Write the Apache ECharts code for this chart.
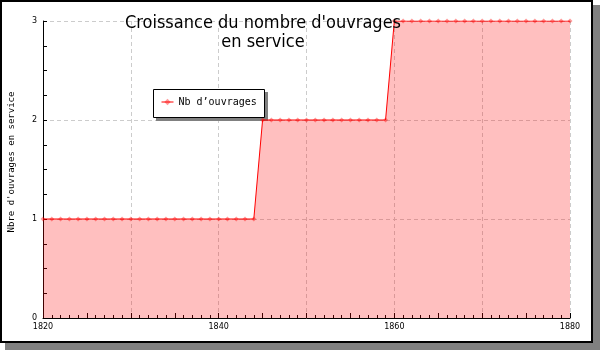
<!DOCTYPE html>
<html><head><meta charset="utf-8">
<script src="https://cdn.jsdelivr.net/npm/echarts@6/dist/echarts.min.js"></script>
<style>html,body{margin:0;padding:0;background:#fff}#c{width:600px;height:350px}</style>
</head><body><div id="c"></div>
<script>
var years = [1820,1821,1822,1823,1824,1825,1826,1827,1828,1829,
             1830,1831,1832,1833,1834,1835,1836,1837,1838,1839,
             1840,1841,1842,1843,1844,1845,1846,1847,1848,1849,
             1850,1851,1852,1853,1854,1855,1856,1857,1858,1859,
             1860,1861,1862,1863,1864,1865,1866,1867,1868,1869,
             1870,1871,1872,1873,1874,1875,1876,1877,1878,1879,1880];
var nbOuvrages = [1,1,1,1,1,1,1,1,1,1,
                  1,1,1,1,1,1,1,1,1,1,
                  1,1,1,1,1,2,2,2,2,2,
                  2,2,2,2,2,2,2,2,2,2,
                  3,3,3,3,3,3,3,3,3,3,
                  3,3,3,3,3,3,3,3,3,3,3];
var xLabels = [1820,1840,1860,1880];
var yTicks = [0,1,2,3];
var titleText = "Croissance du nombre d'ouvrages\nen service";
var seriesName = "Nb d\u2019ouvrages";
var yName = "Nbre d'ouvrages en service";

var chart = echarts.init(document.getElementById('c'), null, {renderer:'canvas'});
var data = years.map(function(y,i){return [y, nbOuvrages[i]];});
var axisFont = {fontFamily:'DejaVu Sans', fontSize:8, color:'#000'};
chart.setOption({
  animation:false,
  backgroundColor:'#fff',
  graphic:[
    {type:'rect', z:-20, shape:{x:5,y:5,width:595,height:345}, style:{fill:'#808080'}},
    {type:'rect', z:-19, shape:{x:1,y:1,width:591,height:341}, style:{fill:'#fff', stroke:'#000', lineWidth:2}},
    {type:'rect', z:3, shape:{x:156,y:92,width:112,height:29}, style:{fill:'#808080'}},
    {type:'rect', z:4, shape:{x:153.5,y:89.5,width:111,height:28}, style:{fill:'#fff', stroke:'#000', lineWidth:1}},
    {type:'text', z:5, x:12, y:162, rotation:Math.PI/2,
     style:{text:yName, fontFamily:'DejaVu Sans Mono', fontSize:9, fill:'#000', align:'center', verticalAlign:'middle'}}
  ],
  title:{text:titleText, left:258, top:9, textAlign:'center',
    textStyle:{fontFamily:'DejaVu Sans Condensed', fontSize:18, fontWeight:'normal', color:'#000', lineHeight:19}},
  legend:{left:161, top:97, orient:'horizontal', padding:0,
    itemWidth:12, itemHeight:8, z:6, lineStyle:{width:1},
    textStyle:{fontFamily:'DejaVu Sans Mono', fontSize:10, color:'#000'}, data:[seriesName]},
  grid:{left:43, right:30, top:21, bottom:32, containLabel:false},
  xAxis:[
    {type:'value', min:1820, max:1880, interval:5,
     axisLine:{show:true, lineStyle:{color:'#000', width:1}},
     axisTick:{show:true, inside:true, length:5, lineStyle:{color:'#000'}},
     minorTick:{show:true, splitNumber:5, length:3, lineStyle:{color:'#000'}},
     splitLine:{show:false},
     axisLabel:Object.assign({margin:5, showMaxLabel:true, showMinLabel:true,
       formatter:function(v){return xLabels.indexOf(v)>=0 ? String(v) : '';}}, axisFont)},
    {type:'value', min:1820, max:1880, interval:10, position:'bottom',
     axisLine:{show:false}, axisTick:{show:false}, axisLabel:{show:false},
     splitLine:{show:true, lineStyle:{color:'#cccccc', type:[4,3], width:1}}}
  ],
  yAxis:{type:'value', min:0, max:3, interval:1,
    axisLine:{show:true, lineStyle:{color:'#000', width:1}},
    axisTick:{show:true, inside:true, length:4, lineStyle:{color:'#000'}},
    minorTick:{show:true, splitNumber:4, length:4, lineStyle:{color:'#000'}},
    splitLine:{show:true, lineStyle:{color:'#cccccc', type:[4,3], width:1}},
    axisLabel:Object.assign({margin:6, formatter:function(v){return yTicks.indexOf(v)>=0?String(v):'';}}, axisFont)},
  series:[{
    name:seriesName, type:'line', xAxisIndex:0, data:data,
    symbol:'diamond', symbolSize:5, showSymbol:true,
    itemStyle:{color:'rgba(255,0,0,0.4)'},
    lineStyle:{color:'#ff0000', width:1},
    areaStyle:{color:'#ff0000', opacity:0.25},
    emphasis:{disabled:true}
  }]
});
</script></body></html>
